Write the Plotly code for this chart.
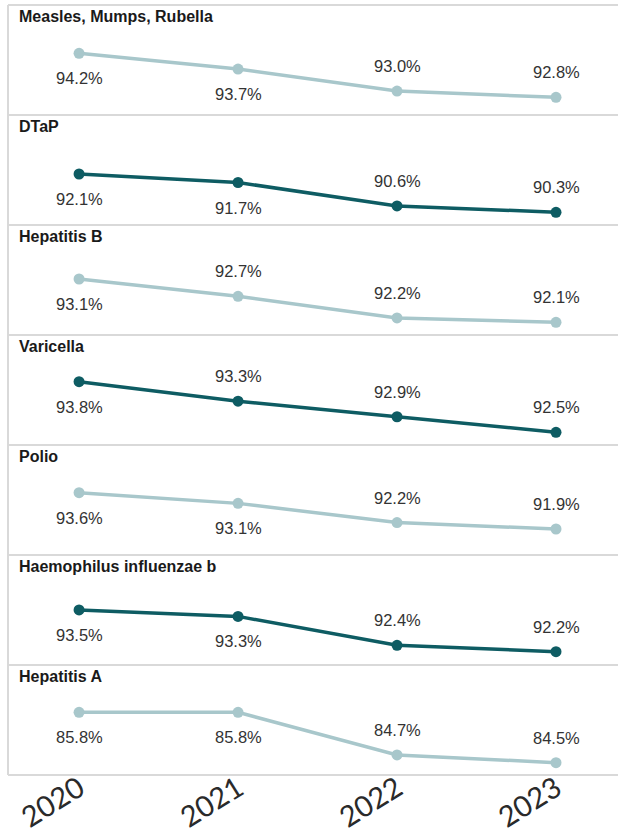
import plotly.graph_objects as go
from plotly.subplots import make_subplots

# Vaccination coverage (%) by school year
years = [2020, 2021, 2022, 2023]
year_labels = ["2020", "2021", "2022", "2023"]

vaccines = [
    "Measles, Mumps, Rubella",
    "DTaP",
    "Hepatitis B",
    "Varicella",
    "Polio",
    "Haemophilus influenzae b",
    "Hepatitis A",
]

mmr = [94.2, 93.7, 93.0, 92.8]
dtap = [92.1, 91.7, 90.6, 90.3]
hep_b = [93.1, 92.7, 92.2, 92.1]
varicella = [93.8, 93.3, 92.9, 92.5]
polio = [93.6, 93.1, 92.2, 91.9]
hib = [93.5, 93.3, 92.4, 92.2]
hep_a = [85.8, 85.8, 84.7, 84.5]

series = [mmr, dtap, hep_b, varicella, polio, hib, hep_a]

# --- styling -------------------------------------------------------------
LIGHT = "#a8c7cb"
DARK = "#0e5c63"
panel_colors = [LIGHT, DARK, LIGHT, DARK, LIGHT, DARK, LIGHT]

# which side of each point its value label sits on
label_sides = [
    ["below", "below", "above", "above"],
    ["below", "below", "above", "above"],
    ["below", "above", "above", "above"],
    ["below", "above", "above", "above"],
    ["below", "below", "above", "above"],
    ["below", "below", "above", "above"],
    ["below", "below", "above", "above"],
]

# per-panel value ranges (each panel has its own independent scale)
y_ranges = [
    [92.237, 95.737],
    [89.703, 94.873],
    [91.807, 94.347],
    [92.174, 95.000],
    [90.682, 95.834],
    [91.785, 95.214],
    [84.183, 87.019],
]

LABEL_FONT = dict(family="Liberation Sans, Arial", size=16.5, color="#333333")
TITLE_FONT = dict(family="Liberation Sans, Arial", size=16, color="#1a1a1a")
SEP_COLOR = "#d9d9d9"

n = len(vaccines)
fig = make_subplots(rows=n, cols=1, shared_xaxes=True, vertical_spacing=0)

for i, (name, vals) in enumerate(zip(vaccines, series)):
    row = i + 1
    color = panel_colors[i]
    fig.add_trace(
        go.Scatter(
            x=years,
            y=vals,
            mode="lines+markers",
            line=dict(color=color, width=3.5),
            marker=dict(color=color, size=11),
            name=name,
            hoverinfo="skip",
            showlegend=False,
        ),
        row=row,
        col=1,
    )
    xref = "x" if row == 1 else f"x{row}"
    yref = "y" if row == 1 else f"y{row}"

    # panel title
    fig.add_annotation(
        text=f"<b>{name}</b>",
        xref="paper", x=0.0155, xanchor="left",
        yref=f"{yref} domain", y=1, yanchor="middle", yshift=-11,
        showarrow=False, font=TITLE_FONT,
    )

    # value labels
    for yr, v, side in zip(years, vals, label_sides[i]):
        fig.add_annotation(
            text=f"{v:.1f}%",
            xref=xref, x=yr, yref=yref, y=v,
            xanchor="center", yanchor="middle",
            yshift=25 if side == "above" else -25,
            showarrow=False, font=LABEL_FONT,
        )

    fig.update_yaxes(
        range=y_ranges[i], visible=False, showgrid=False, zeroline=False,
        row=row, col=1,
    )

fig.update_xaxes(
    range=[2019.553, 2023.39],
    showgrid=False, zeroline=False, showline=False,
    tickvals=years, ticktext=year_labels, ticks="",
    automargin=False,
)
fig.update_xaxes(
    tickangle=-32,
    ticklabelstandoff=-10,
    tickfont=dict(family="Lato, Liberation Sans", size=29, color="#2a2a2a"),
    row=n, col=1,
)

# panel borders
shapes = []
for k in range(n + 1):
    yk = k / n
    shapes.append(dict(type="line", xref="paper", yref="paper",
                       x0=0, x1=1, y0=yk, y1=yk,
                       line=dict(color=SEP_COLOR, width=2)))
shapes.append(dict(type="line", xref="paper", yref="paper",
                   x0=0, x1=0, y0=0, y1=1,
                   line=dict(color=SEP_COLOR, width=2)))

fig.update_layout(
    width=618,
    height=836,
    autosize=False,
    margin=dict(l=8, r=0, t=5, b=61),
    paper_bgcolor="white",
    plot_bgcolor="white",
    shapes=shapes,
    showlegend=False,
)

fig.write_html("out.html")
